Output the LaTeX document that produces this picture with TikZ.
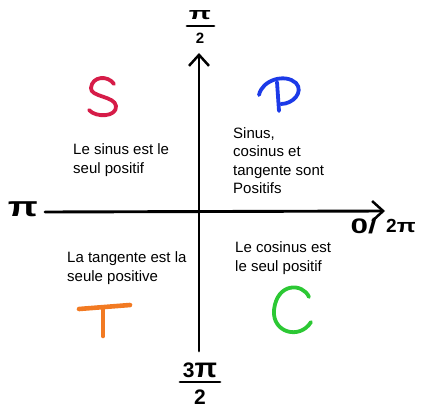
\documentclass[tikz,border=0pt]{standalone}
\usepackage{fontspec}
\setmainfont{Liberation Sans}
\usetikzlibrary{arrows.meta}
\definecolor{sred}{RGB}{214,28,72}
\definecolor{pblue}{RGB}{28,58,232}
\definecolor{cgreen}{RGB}{44,200,52}
\definecolor{torange}{RGB}{242,122,34}
\begin{document}
\begin{tikzpicture}[x=1pt,y=-1pt,
axe/.style={
  line width=2.9pt,
  line cap=round,
  -{Straight Barb[length=11pt,width=20pt,line width=2.5pt]}},
hand/.style={
  line width=3.8pt,
  line cap=round,
  line join=round},
note/.style={
  anchor=north west,
  align=left,
  inner sep=0pt,
  font=\fontsize{15}{19}\selectfont},
angl/.style={
  inner sep=0pt,
  font=\bfseries},
barre/.style={
  line width=2.8pt,
  line cap=round}
]
\useasboundingbox (0,0) rectangle (428,412);
% axes
\coordinate (Bas) at (199,351);
\coordinate (Haut) at (199,53);
\coordinate (Gauche) at (45,212);
\coordinate (Droite) at (385,211);
\draw[axe] (Bas) -- (Haut);
\draw[axe] (Gauche) -- (Droite);
% angles
\node[angl,font=\fontsize{17}{17}\bfseries] (PiDemiNum) at (200,15) {\scalebox{1.7}[1]{π}};
\node[angl,font=\fontsize{15}{15}\bfseries] (PiDemiDen) at (200,38) {2};
\coordinate (BarreHautG) at (187,26);
\coordinate (BarreHautD) at (214,26);
\draw[barre] (BarreHautG) -- (BarreHautD);
\node[angl,font=\fontsize{28}{28}\bfseries] (Pi) at (23,209) {\scalebox{1.4}[1]{π}};
\node[angl,font=\fontsize{21}{21}\bfseries,anchor=east] (Zero) at (377,226) {\scalebox{1.5}[1]{0/}};
\node[angl,font=\fontsize{19}{19}\bfseries,anchor=west] (DeuxPi) at (386,226) {2\scalebox{1.3}[1]{π}};
\node[angl,font=\fontsize{21}{21}\bfseries] (TroisPiNum) at (200,370) {3\scalebox{1.4}[1.3]{π}};
\node[angl,font=\fontsize{21}{21}\bfseries] (TroisPiDen) at (200,397) {2};
\coordinate (BarreBasG) at (180,382);
\coordinate (BarreBasD) at (220,382);
\draw[barre] (BarreBasG) -- (BarreBasD);
% lettres
\draw[hand,sred] (114,84) .. controls (108,75) and (92,76) .. (91,88)
  .. controls (90,97) and (115,96) .. (116,106)
  .. controls (117,117) and (96,118) .. (89,110);
\draw[hand,pblue] (277,82) -- (279,111);
\draw[hand,pblue] (259,95) .. controls (262,80) and (285,73) .. (296,83)
  .. controls (304,92) and (293,104) .. (281,104);
\draw[hand,cgreen] (309,297) .. controls (303,283) and (277,282) .. (274,310)
  .. controls (272,333) and (300,340) .. (311,322);
\draw[hand,torange,line width=4.6pt] (79,309) -- (130,305);
\draw[hand,torange,line width=4.6pt] (103,308) -- (103,336);
% textes
\node[note] (TexteS) at (73,143) {Le sinus est le\\seul positif};
\node[note,font=\fontsize{15}{18.5}\selectfont] (TexteP) at (233,127) {Sinus,\\cosinus et\\tangente sont\\Positifs};
\node[note] (TexteT) at (67,251) {La tangente est la\\seule positive};
\node[note] (TexteC) at (235,241) {Le cosinus est\\le seul positif};
\end{tikzpicture}
\end{document}
